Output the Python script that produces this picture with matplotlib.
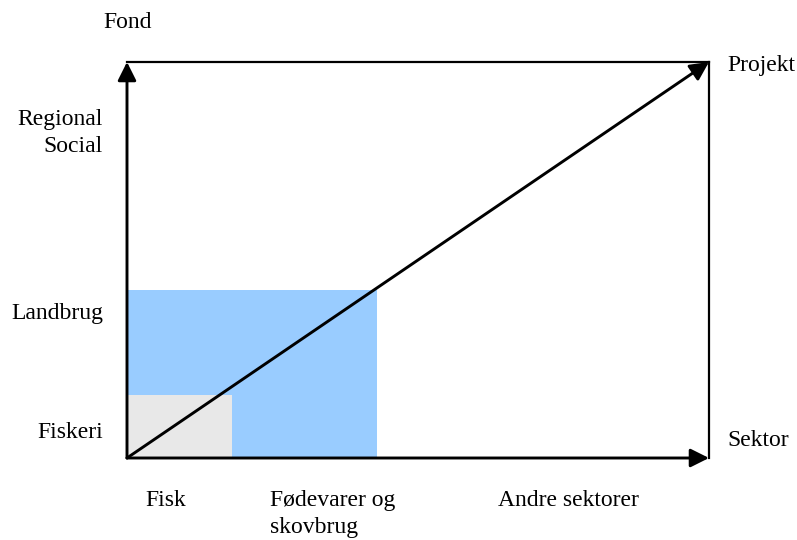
import matplotlib
matplotlib.use('Agg')
import matplotlib.pyplot as plt
from matplotlib.patches import Rectangle

# diagram space (pixel-like units, y grows downward)
origin = (127, 458)
top_right = (709, 62)

# sector boundaries along x, fund boundaries along y
sector_edges = [127, 232, 377]
fund_edges = [458, 395, 290]
box_colors = ['#99ccff', '#e8e8e8']

x_labels = ['Fisk', 'Fødevarer og\nskovbrug', 'Andre sektorer']
x_label_pos = [145, 270, 498]
y_labels = ['Fiskeri', 'Landbrug', 'Regional\nSocial']
y_label_pos = [433, 313, 133]

fig = plt.figure(figsize=(7.97, 5.40), dpi=100)
ax = fig.add_axes([0, 0, 1, 1])
ax.set_xlim(0, 797)
ax.set_ylim(540, 0)
ax.axis('off')

plt.rcParams['font.family'] = ['Liberation Serif', 'DejaVu Serif']
fs = 17

# boxes: bigger blue first, then the grey one on top
ax.add_patch(Rectangle((sector_edges[0], fund_edges[2]), sector_edges[2] - sector_edges[0],
                       fund_edges[0] - fund_edges[2], facecolor=box_colors[0], edgecolor='none'))
ax.add_patch(Rectangle((sector_edges[0], fund_edges[1]), sector_edges[1] - sector_edges[0],
                       fund_edges[0] - fund_edges[1], facecolor=box_colors[1], edgecolor='none'))

# frame lines
ax.plot([origin[0], top_right[0]], [top_right[1], top_right[1]], color='black', lw=1.6)
ax.plot([top_right[0], top_right[0]], [top_right[1], origin[1]], color='black', lw=1.6)

arrow = dict(arrowstyle='-|>', color='black', lw=2.1, mutation_scale=28, shrinkA=0, shrinkB=0)
ax.annotate('', xy=(origin[0], top_right[1]), xytext=origin, arrowprops=arrow)
ax.annotate('', xy=(top_right[0], origin[1]), xytext=origin, arrowprops=arrow)
ax.annotate('', xy=top_right, xytext=origin, arrowprops=arrow)

# axis captions
ax.text(103, 22, 'Fond', fontsize=fs, va='center', ha='left')
ax.text(727, 66, 'Projekt', fontsize=fs, va='center', ha='left')
ax.text(727, 440, 'Sektor', fontsize=fs, va='center', ha='left')

for lab, y in zip(y_labels, y_label_pos):
    ax.text(103, y, lab, fontsize=fs, va='center', ha='right', linespacing=1.38)

for lab, x in zip(x_labels, x_label_pos):
    ax.text(x, 490, lab, fontsize=fs, va='top', ha='left', linespacing=1.38)

fig.savefig('out.png', dpi=100)
